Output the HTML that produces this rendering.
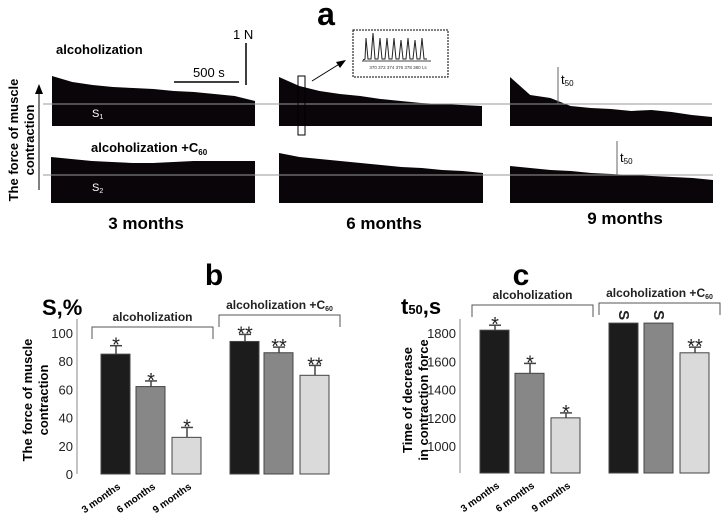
<!DOCTYPE html>
<html><head><meta charset="utf-8"><style>
html,body{margin:0;padding:0;background:#fff}
svg{display:block;font-family:"Liberation Sans",Arial,sans-serif}
</style></head><body>
<svg width="722" height="518" viewBox="0 0 722 518" xmlns="http://www.w3.org/2000/svg">
<g id="panelA">
<text x="326" y="25" font-size="32" font-weight="bold" text-anchor="middle">a</text>
<text x="56" y="54" font-size="13" font-weight="bold">alcoholization</text>
<text x="91" y="152" font-size="13" font-weight="bold">alcoholization +C<tspan font-size="8" dy="3">60</tspan></text>
<text x="233" y="39" font-size="13">1 N</text>
<line x1="246" y1="43" x2="246" y2="85" stroke="#000" stroke-width="1.5"/>
<line x1="174" y1="82" x2="239" y2="82" stroke="#000" stroke-width="1.5"/>
<text x="193" y="77" font-size="13">500 s</text>
<g id="traces"></g>
<line x1="43" y1="104" x2="712" y2="104" stroke="#999" stroke-width="1"/>
<line x1="43" y1="175" x2="713" y2="175" stroke="#999" stroke-width="1"/>
<text x="92" y="117" font-size="11" fill="#fff">S<tspan font-size="7" dy="2">1</tspan></text>
<text x="92" y="191" font-size="11" fill="#fff">S<tspan font-size="7" dy="2">2</tspan></text>
<rect x="298" y="76" width="7" height="59" fill="none" stroke="#000" stroke-width="1"/>
<line x1="312" y1="81" x2="341" y2="63" stroke="#000" stroke-width="1"/>
<polygon points="346,60 336,62 340,68" fill="#000"/>
<rect x="353" y="30" width="95" height="47" fill="#fff" stroke="#000" stroke-dasharray="2,1"/>
<polyline points="363,60 365,59 366,38 368,59 371,59 373,33 375,59 378,59 380,38 382,59 385,59 387,38 389,59 392,59 394,38 396,59 399,59 401,40 403,59 406,59 408,38 410,59 413,59 415,40 417,59 420,59 422,38 424,59 427,59" fill="none" stroke="#222" stroke-width="1"/>
<line x1="362" y1="61" x2="431" y2="61" stroke="#444"/>
<text x="398" y="69" font-size="4.5" text-anchor="middle" fill="#333">370    372    374    376    378    380  t,s</text>
<line x1="558" y1="67" x2="558" y2="104" stroke="#666"/>
<text x="561" y="84" font-size="13">t<tspan font-size="8" dy="2">50</tspan></text>
<line x1="617" y1="141" x2="617" y2="175" stroke="#666"/>
<text x="620" y="162" font-size="13">t<tspan font-size="8" dy="2">50</tspan></text>
<line x1="39" y1="190" x2="39" y2="92" stroke="#000" stroke-width="1"/>
<polygon points="39,84 35,94 43,94" fill="#000"/>
<text transform="translate(14,140) rotate(-90)" font-size="13" font-weight="bold" text-anchor="middle"><tspan x="0" dy="4">The force of muscle</tspan><tspan x="0" dy="16">contraction</tspan></text>
<text x="146" y="229" font-size="17" font-weight="bold" text-anchor="middle">3 months</text>
<text x="384" y="229" font-size="17" font-weight="bold" text-anchor="middle">6 months</text>
<text x="625" y="224" font-size="17" font-weight="bold" text-anchor="middle">9 months</text>
</g>
<g id="panelB"></g>
<g id="panelC"></g>
</svg>
<script>
// Trace envelope tops (relative amplitude vs normalized time)
var traceTops1 = [[1,.88,.82,.78,.76,.74,.70,.68,.64,.60,.50],[.98,.80,.70,.64,.60,.54,.50,.46,.44,.42,.40],[.98,.62,.56,.40,.36,.34,.30,.32,.28,.22,.18]];
var traceTops2 = [[.92,.88,.84,.82,.80,.80,.82,.84,.84,.84,.84],[1,.92,.88,.84,.80,.76,.72,.70,.66,.64,.60],[.74,.70,.66,.64,.60,.58,.56,.54,.52,.50,.46]];
var NS='http://www.w3.org/2000/svg';
function mk(t,a,p){var e=document.createElementNS(NS,t);for(var k in a)e.setAttribute(k,a[k]);(p||document.getElementById('traces')).appendChild(e);return e;}
var xs1=[[52,255],[279,482],[510,712]];
var xs2=[[51,255],[279,483],[510,713]];
function drawTraces(tops,xs,full,bottom){
  for(var i=0;i<3;i++){
    var x0=xs[i][0],x1=xs[i][1],d=tops[i],pts=[];
    for(var j=0;j<d.length;j++){var x=x0+(x1-x0)*j/(d.length-1);pts.push(x+','+(bottom-(bottom-full)*d[j]));}
    pts.push(x1+','+bottom);pts.push(x0+','+bottom);
    var p=mk('polygon',{points:pts.join(' '),fill:'#0a0508'});
    
    
  }
}
drawTraces(traceTops1,xs1,76,126);
drawTraces(traceTops2,xs2,153,203);

function barChart(g,cfg){
  function y(v){return cfg.y0+(v-cfg.vmin)*(cfg.y1-cfg.y0)/(cfg.vmax-cfg.vmin);}
  var G=document.getElementById(g);
  mk('line',{x1:cfg.ax,y1:y(cfg.vmin),x2:cfg.ax,y2:cfg.axTop,stroke:'#888'},G);
  cfg.ticks.forEach(function(t){
    var tx=mk('text',{x:cfg.ax-4,y:y(t)+5,'font-size':13,'text-anchor':'end',fill:'#222'},G);tx.textContent=t;
    
    
  });
  var fills=['#1c1c1c','#878787','#dadada'];
  cfg.vals.forEach(function(v,i){
    var x=cfg.bx[i],top=y(v);
    if(cfg.err[i]!=null){
      mk('line',{x1:x+15,y1:top,x2:x+15,y2:y(cfg.err[i]),stroke:'#444','stroke-width':1.5},G);
      mk('line',{x1:x+9,y1:y(cfg.err[i]),x2:x+21,y2:y(cfg.err[i]),stroke:'#444','stroke-width':1.5},G);
    }
    var r=mk('rect',{x:x,y:top,width:29,height:y(cfg.vmin)-top,fill:fills[i%3],stroke:'#444','stroke-width':1},G);
    
    
    var mt=(cfg.err[i]!=null?y(cfg.err[i]):top)-4;
    var s=mk('text',{x:x+15,y:mt+10,'font-size':20,'text-anchor':'middle',fill:'#222'},G);
    s.textContent=cfg.marks[i];
    if(cfg.marks[i]=='S'){s.setAttribute('font-size',15);s.setAttribute('font-weight','bold');s.setAttribute('y',mt+1);s.setAttribute('transform','rotate(90 '+(x+15)+' '+(mt-4)+')');}
    
    
  });
  cfg.cats.forEach(function(c,i){
    var x=cfg.bx[i]+20,yy=y(cfg.vmin)+14;
    var t=mk('text',{x:x,y:yy,'font-size':10,'font-weight':'bold','text-anchor':'end',transform:'rotate(-35 '+x+' '+yy+')'},G);t.textContent=c;
    
    
  });
  cfg.brackets.forEach(function(b){
    mk('polyline',{points:b[0]+','+(b[2]+12)+' '+b[0]+','+b[2]+' '+b[1]+','+b[2]+' '+b[1]+','+(b[2]+12),fill:'none',stroke:'#555'},G);
    var t=mk('text',{x:(b[0]+b[1])/2,y:b[2]-6,'font-size':12,'font-weight':'bold','text-anchor':'middle',fill:'#222'},G);
    t.innerHTML=b[3]?'alcoholization +C<tspan font-size="7" dy="2">60</tspan>':'alcoholization';
    
    
  });
}
// Panel b data
var bCats=['3 months','6 months','9 months'];
var bVals=[85,62,26,94,86,70];
var bErr=[91,66,33,99,90,77];
var bTicks=[0,20,40,60,80,100];
var bMarks=['*','*','*','**','**','**'];
barChart('panelB',{vals:bVals,err:bErr,ticks:bTicks,marks:bMarks,cats:bCats,vmin:0,vmax:100,y0:474,y1:333,ax:77,axTop:319,
  bx:[101,136,172,230,264,300],names:['3m-alc','6m-alc','9m-alc','3m-c60','6m-c60','9m-c60'],
  brackets:[[92,213,327,false],[219,340,315,true]]});
// Panel c data
var cCats=['3 months','6 months','9 months'];
var cVals=[1820,1515,1200,1870,1870,1660];
var cErr=[1855,1585,1235,null,null,1700];
var cTicks=[1000,1200,1400,1600,1800];
var cMarks=['*','*','*','S','S','**'];
barChart('panelC',{vals:cVals,err:cErr,ticks:cTicks,marks:cMarks,cats:cCats,vmin:810,vmax:1800,y0:473,y1:333,ax:460,axTop:319,
  bx:[480,515,551,609,644,680],names:['3m-alc','6m-alc','9m-alc','3m-c60','6m-c60','9m-c60'],
  brackets:[[472,593,305,false],[599,720,303,true]]});
function lbl(x,y,s,txt,n,anchor,html){var t=mk('text',{x:x,y:y,'font-size':s,'font-weight':'bold','text-anchor':anchor||'middle'},document.querySelector('svg'));if(html)t.innerHTML=txt;else t.textContent=txt;
  
  return t;}
lbl(214,285,30,'b','panel-b-label');
lbl(521,285,30,'c','panel-c-label');
lbl(42,315,22,'S,%','panel-b-unit','start');
lbl(401,314,22,'t<tspan font-size="13">50</tspan>,s','panel-c-unit','start',true);
var t1=lbl(0,0,13,'<tspan x="0" dy="-2">The force of muscle</tspan><tspan x="0" dy="16">contraction</tspan>','panel-b-y-title','middle',true);t1.setAttribute('transform','translate(34,400) rotate(-90)');
var t2=lbl(0,0,13,'<tspan x="0" dy="-2">Time of decrease</tspan><tspan x="0" dy="16">in contraction force</tspan>','panel-c-y-title','middle',true);t2.setAttribute('transform','translate(414,400) rotate(-90)');
</script>
</body></html>
